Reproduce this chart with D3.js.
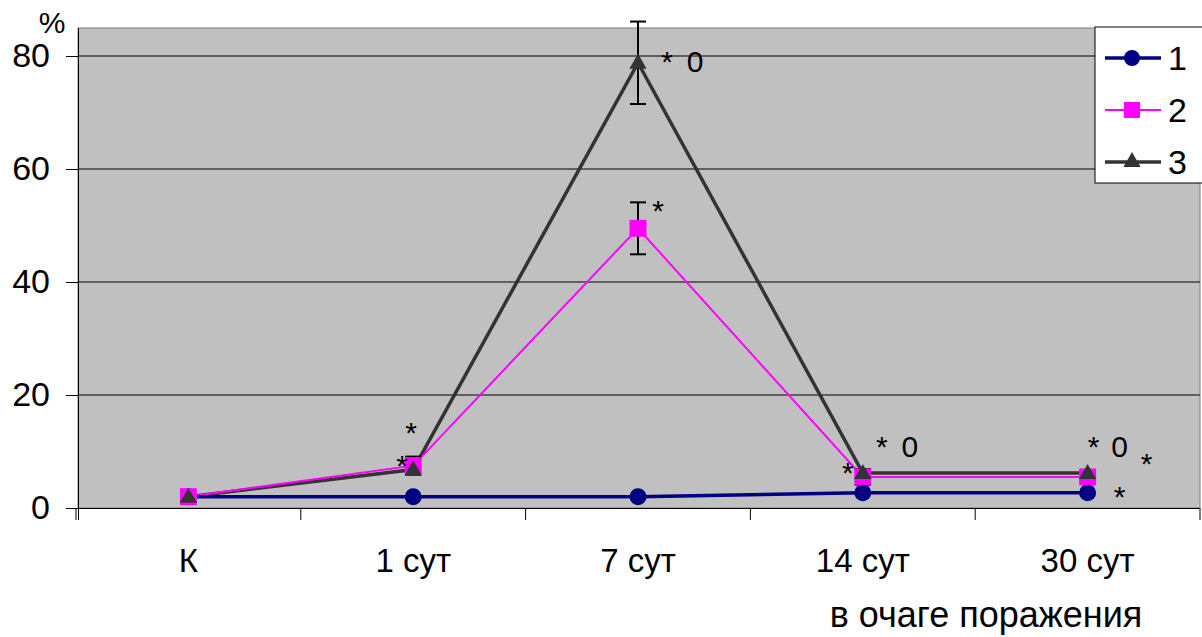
<!DOCTYPE html>
<html>
<head>
<meta charset="utf-8">
<script src="https://cdn.jsdelivr.net/npm/d3@7"></script>
<style>
  body { margin: 0; background: #fff; }
  text { font-family: "Liberation Sans", Arial, sans-serif; }
</style>
</head>
<body>
<div id="chart"></div>
<script>
// Categories and series
const categories = ["К", "1 сут", "7 сут", "14 сут", "30 сут"];
const series1 = [2, 2, 2, 2.7, 2.7];
const series2 = [2, 7.5, 49.5, 5.5, 5.5];
const series3 = [2, 6.8, 78.8, 6.2, 6.2];
const errors2 = [0, 1.6, 4.6, 1.4, 0];
const errors3 = [0, 0, 7.3, 0, 0];
const yTicks = [0, 20, 40, 60, 80];
const seriesNames = ["1", "2", "3"];

// significance marks: category index, baseline value, text
const notes = [
    { cat: 1, val: 11.5, text: "*", dx: -2 },
    { cat: 1, val: 5.7, text: "*", dx: -11 },
    { cat: 2, val: 77.2, text: "*", dx: 29 },
    { cat: 2, val: 77.2, text: "0", dx: 57 },
    { cat: 2, val: 50.8, text: "*", dx: 20 },
    { cat: 3, val: 9.0, text: "*", dx: 19 },
    { cat: 3, val: 9.0, text: "0", dx: 47 },
    { cat: 3, val: 4.4, text: "*", dx: -15 },
    { cat: 4, val: 9.0, text: "*", dx: 6 },
    { cat: 4, val: 9.0, text: "0", dx: 32 },
    { cat: 4, val: 6.0, text: "*", dx: 59 },
    { cat: 4, val: 0.2, text: "*", dx: 32 }
];

const W = 1202, H = 637;
const plot = { left: 78, right: 1200, top: 28, bottom: 508 };

const svg = d3.select("#chart")
    .append("svg")
    .attr("width", W)
    .attr("height", H);

const x = d3.scaleBand()
    .domain(categories)
    .range([76, 1200]);

const y = d3.scaleLinear()
    .domain([0, 80])
    .range([508, 56]);

// plot area
svg.append("rect")
    .attr("x", plot.left)
    .attr("y", plot.top)
    .attr("width", plot.right - plot.left)
    .attr("height", plot.bottom - plot.top)
    .attr("fill", "#c0c0c0")
    .attr("stroke", "#808080")
    .attr("stroke-width", 1);

// gridlines
svg.selectAll(".grid")
    .data(yTicks.filter(d => d > 0))
    .enter()
    .append("line")
    .attr("x1", plot.left).attr("x2", plot.right)
    .attr("y1", d => y(d)).attr("y2", d => y(d))
    .attr("stroke", "#000")
    .attr("stroke-width", 1);

// y axis
const yAxis = svg.append("g")
    .attr("transform", `translate(${plot.left},0)`)
    .call(d3.axisLeft(y).tickValues(yTicks).tickSize(12).tickPadding(16));
yAxis.select(".domain").attr("d", `M0.5,${plot.top}V${plot.bottom + 12}`).attr("stroke", "#000");
yAxis.selectAll("text").style("font-size", "34px").attr("fill", "#000");

svg.append("text")
    .attr("x", 52)
    .attr("y", 33)
    .attr("text-anchor", "middle")
    .style("font-size", "30px")
    .text("%");

// x axis
const xAxis = svg.append("g")
    .attr("transform", `translate(0,${plot.bottom})`)
    .call(d3.axisBottom(x).tickSize(0));
xAxis.select(".domain").attr("d", `M${plot.left},0.5H${plot.right}`).attr("stroke", "#000");
xAxis.selectAll("text")
    .style("font-size", "33px")
    .attr("fill", "#000")
    .attr("y", 64)
    .attr("dy", 0);

// category separators
svg.selectAll(".sep")
    .data(categories.map(c => x(c)).concat([x.range()[1]]))
    .enter()
    .append("line")
    .attr("x1", d => d).attr("x2", d => d)
    .attr("y1", plot.bottom).attr("y2", plot.bottom + 12)
    .attr("stroke", "#000");

svg.append("text")
    .attr("x", 986)
    .attr("y", 627)
    .attr("text-anchor", "middle")
    .style("font-size", "36px")
    .text("в очаге поражения");

const cx = (d, i) => x(categories[i]) + x.bandwidth() / 2;

const line = d3.line()
    .x((d, i) => cx(d, i))
    .y(d => y(d));

// lines
svg.append("path").datum(series3)
    .attr("fill", "none").attr("stroke", "#333333").attr("stroke-width", 3.5)
    .attr("d", line);
svg.append("path").datum(series2)
    .attr("fill", "none").attr("stroke", "#ff00ff").attr("stroke-width", 2)
    .attr("d", line);
svg.append("path").datum(series1)
    .attr("fill", "none").attr("stroke", "#000080").attr("stroke-width", 3.5)
    .attr("d", line);

// error bars
function errorBars(vals, errs) {
    vals.forEach((v, i) => {
        if (!errs[i]) return;
        const px = cx(v, i);
        svg.append("line")
            .attr("x1", px).attr("x2", px)
            .attr("y1", y(v - errs[i])).attr("y2", y(v + errs[i]))
            .attr("stroke", "#000").attr("stroke-width", 2);
        [v - errs[i], v + errs[i]].forEach(e => {
            svg.append("line")
                .attr("x1", px - 8).attr("x2", px + 8)
                .attr("y1", y(e)).attr("y2", y(e))
                .attr("stroke", "#000").attr("stroke-width", 2);
        });
    });
}
errorBars(series2, errors2);
errorBars(series3, errors3);

// markers
svg.selectAll(".m1").data(series1).enter()
    .append("circle")
    .attr("cx", (d, i) => cx(d, i))
    .attr("cy", d => y(d))
    .attr("r", 8.5)
    .attr("fill", "#000080");

svg.selectAll(".m2").data(series2).enter()
    .append("rect")
    .attr("x", (d, i) => cx(d, i) - 8.5)
    .attr("y", d => y(d) - 8.5)
    .attr("width", 17).attr("height", 17)
    .attr("fill", "#ff00ff");

const tri = d3.symbol().type(d3.symbolTriangle).size(130);
svg.selectAll(".m3").data(series3).enter()
    .append("path")
    .attr("d", tri)
    .attr("transform", (d, i) => `translate(${cx(d, i)},${y(d) + 1})`)
    .attr("fill", "#333333");

// notes
svg.selectAll(".note").data(notes).enter()
    .append("text")
    .attr("x", d => x(categories[d.cat]) + x.bandwidth() / 2 + d.dx)
    .attr("y", d => y(d.val))
    .attr("text-anchor", "middle")
    .style("font-size", "30px")
    .text(d => d.text);

// legend
const legend = svg.append("g").attr("transform", "translate(1095,27)");
legend.append("rect")
    .attr("x", 0).attr("y", 0)
    .attr("width", 110).attr("height", 156)
    .attr("fill", "#fff").attr("stroke", "#000").attr("stroke-width", 1);

const legColors = ["#000080", "#ff00ff", "#333333"];
const legWidths = [3.5, 2, 3.5];
seriesNames.forEach((name, i) => {
    const ly = 31 + i * 52;
    legend.append("line")
        .attr("x1", 10).attr("x2", 66)
        .attr("y1", ly).attr("y2", ly)
        .attr("stroke", legColors[i]).attr("stroke-width", legWidths[i]);
    if (i === 0) {
        legend.append("circle").attr("cx", 37).attr("cy", ly).attr("r", 8).attr("fill", legColors[i]);
    } else if (i === 1) {
        legend.append("rect").attr("x", 29).attr("y", ly - 8).attr("width", 16).attr("height", 16).attr("fill", legColors[i]);
    } else {
        legend.append("path").attr("d", tri).attr("transform", `translate(37,${ly})`).attr("fill", legColors[i]);
    }
    legend.append("text")
        .attr("x", 73)
        .attr("y", ly)
        .attr("dy", "0.36em")
        .style("font-size", "34px")
        .text(name);
});
</script>
</body>
</html>
